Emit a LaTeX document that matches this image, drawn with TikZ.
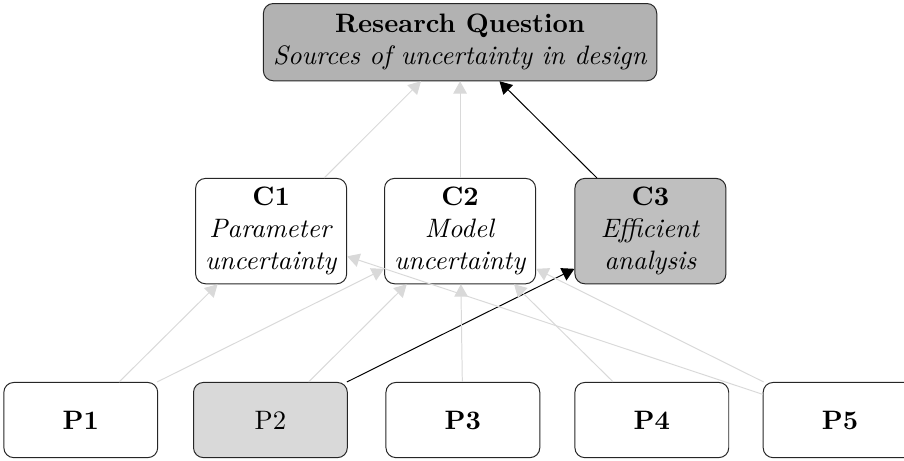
\documentclass[tikz,border=0pt]{standalone}
\usetikzlibrary{arrows.meta}

\begin{document}
\begin{tikzpicture}[
        font=\fontsize{10.8pt}{13pt}\selectfont,
        question/.style={draw=black!85, rounded corners=4pt, fill=black!30, align=center, minimum width=5.6cm, minimum height=1.1cm, inner sep=2pt},
        contrib/.style={draw=black!85, rounded corners=4pt, align=center, minimum width=2.15cm, minimum height=1.5cm, inner sep=1pt},
        paper/.style={draw=black!85, rounded corners=4pt, minimum width=2.19cm, minimum height=1.07cm},
        link/.style={-{Triangle[length=5pt, width=5.5pt]}, draw=black!15, fill=black!15},
        mainlink/.style={-{Triangle[length=5pt, width=5.5pt]}, draw=black, fill=black},
    ]
        \useasboundingbox (0, 0) rectangle (12.87, 6.55);
        \node[question] (rq) at (6.55, 5.95) {\textbf{Research Question}\\\textit{Sources of uncertainty in design}};
        \node[contrib] (c1) at (3.86, 3.26) {\textbf{C1}\\\textit{Parameter}\\\textit{uncertainty}};
        \node[contrib] (c2) at (6.55, 3.26) {\textbf{C2}\\\textit{Model}\\\textit{uncertainty}};
        \node[contrib, fill=black!25] (c3) at (9.26, 3.26) {\textbf{C3}\\\textit{Efficient}\\\textit{analysis}};
        \node[paper] (p1) at (1.15, 0.57) {\textbf{P1}};
        \node[paper, fill=black!15] (p2) at (3.85, 0.57) {P2};
        \node[paper] (p3) at (6.59, 0.57) {\textbf{P3}};
        \node[paper] (p4) at (9.28, 0.57) {\textbf{P4}};
        \node[paper] (p5) at (11.96, 0.57) {\textbf{P5}};
        \draw[link] (c1) edge (rq);
        \draw[link] (c2) edge (rq);
        \draw[mainlink] (c3) edge (rq);
        \draw[link] (p1) edge (c1);
        \draw[link] (p1) edge (c2);
        \draw[link] (p2) edge (c2);
        \draw[mainlink] (p2) edge (c3);
        \draw[link] (p3) edge (c2);
        \draw[link] (p4) edge (c2);
        \draw[link] (p5) edge (c1);
        \draw[link] (p5) edge (c2);
\end{tikzpicture}
\end{document}
